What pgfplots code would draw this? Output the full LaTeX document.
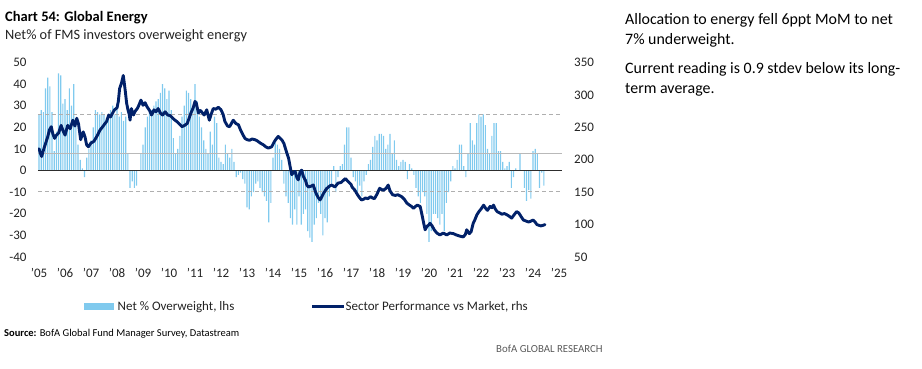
\documentclass[border=0pt]{standalone}
\usepackage{fontspec}
\setmainfont{Carlito}
\usepackage{pgfplots}
\usepackage{pgfplotstable}
\pgfplotsset{compat=1.18}
\definecolor{barblue}{RGB}{128,202,238}
\definecolor{navy}{RGB}{1,33,105}
\definecolor{dgray}{RGB}{175,175,175}
\definecolor{mgray}{RGB}{185,185,185}
\definecolor{zline}{RGB}{45,45,45}
\definecolor{txt}{RGB}{35,35,35}

\pgfplotstableread{
v
26
28
27
38
43
39
27
9
18
45
44
31
33
28
38
30
40
22
12
5
1
-3
6
10
14
20
28
27
26
27
26
24
25
28
30
26
28
25
27
23
25
8
-8
-5
-8
-7
0
8
12
20
25
27
28
30
32
33
36
40
38
33
37
28
15
8
10
16
25
30
37
36
33
30
40
32
25
20
14
10
8
18
12
25
22
6
4
3
12
8
6
10
4
-3
-2
-1
-4
-6
-17
-18
-12
-10
-6
-5
-8
-10
-12
-14
-24
-15
6
13
12
10
5
-6
-12
-15
-22
-25
-18
-25
-12
-25
-20
-18
-28
-31
-33
-25
-22
-15
-20
-30
-22
-24
-12
-6
2
-10
-3
2
3
12
20
20
6
-3
-5
-10
-7
-12
-5
-2
3
5
11
16
14
17
17
16
10
12
17
8
14
5
2
4
5
4
-4
3
1
-2
-8
-12
-15
-10
-12
-20
-33
-28
-20
-20
-22
-25
-20
-28
-15
-10
-5
2
1
5
12
12
2
-3
8
22
14
12
22
26
25
26
21
10
8
16
22
22
9
9
4
1
2
4
-8
-3
1
0
8
0
-8
-14
-9
-13
9
10
8
-8
-1
-7
}\barsdata

\pgfplotstableread{
x y
2005.00 217
2005.05 210
2005.10 205
2005.17 215
2005.25 225
2005.33 235
2005.40 246
2005.47 251
2005.53 240
2005.60 233
2005.67 238
2005.75 241
2005.85 253
2005.92 245
2006.00 238
2006.10 253
2006.20 248
2006.30 261
2006.38 252
2006.45 264
2006.52 255
2006.60 231
2006.70 243
2006.77 235
2006.83 223
2006.90 220
2007.00 226
2007.10 228
2007.15 231
2007.25 238
2007.35 246
2007.45 251
2007.52 255
2007.60 259
2007.68 269
2007.75 266
2007.83 272
2007.90 277
2008.00 280
2008.05 290
2008.10 310
2008.17 318
2008.24 330
2008.28 318
2008.32 305
2008.37 287
2008.42 277
2008.47 270
2008.50 261
2008.55 279
2008.63 269
2008.70 275
2008.78 279
2008.85 285
2008.92 292
2009.00 284
2009.08 288
2009.15 282
2009.25 276
2009.33 269
2009.42 277
2009.50 274
2009.58 279
2009.67 272
2009.75 269
2009.85 274
2009.95 269
2010.05 268
2010.10 266
2010.20 262
2010.30 259
2010.40 255
2010.50 251
2010.60 253
2010.70 256
2010.78 265
2010.85 273
2010.92 279
2011.00 290
2011.05 287
2011.13 272
2011.20 276
2011.25 274
2011.35 269
2011.45 277
2011.55 261
2011.62 270
2011.70 279
2011.80 278
2011.90 281
2012.00 277
2012.08 270
2012.15 259
2012.25 252
2012.33 251
2012.40 256
2012.47 261
2012.57 256
2012.67 254
2012.75 246
2012.85 238
2012.92 233
2013.00 231
2013.10 230
2013.20 232
2013.30 231
2013.40 229
2013.50 226
2013.63 223
2013.72 220
2013.82 218
2013.95 220
2014.05 228
2014.12 232
2014.20 236
2014.28 233
2014.35 230
2014.42 225
2014.48 217
2014.55 208
2014.60 202
2014.66 189
2014.72 177
2014.78 180
2014.85 182
2014.92 172
2014.97 169
2015.04 181
2015.10 184
2015.17 174
2015.25 168
2015.30 161
2015.36 158
2015.45 159
2015.55 161
2015.62 152
2015.68 146
2015.75 141
2015.81 138
2015.88 143
2015.94 148
2016.05 155
2016.13 158
2016.20 160
2016.26 161
2016.38 158
2016.50 164
2016.62 165
2016.70 168
2016.78 171
2016.90 166
2017.00 162
2017.04 158
2017.15 153
2017.22 148
2017.30 143
2017.40 138
2017.48 139
2017.55 141
2017.65 140
2017.75 143
2017.83 141
2017.90 140
2018.00 147
2018.10 156
2018.18 154
2018.25 153
2018.35 156
2018.43 161
2018.50 152
2018.60 146
2018.70 145
2018.80 146
2018.95 143
2019.05 139
2019.15 133
2019.25 130
2019.33 128
2019.40 125
2019.48 128
2019.55 130
2019.66 128
2019.72 117
2019.78 105
2019.85 92
2019.92 97
2020.00 100
2020.04 102
2020.12 98
2020.20 92
2020.30 87
2020.42 84
2020.55 87
2020.68 84
2020.80 87
2020.94 86
2021.05 84
2021.20 82
2021.32 81
2021.40 85
2021.45 92
2021.55 86
2021.62 89
2021.70 102
2021.77 108
2021.84 115
2021.92 120
2022.00 124
2022.10 130
2022.18 125
2022.25 122
2022.35 128
2022.42 126
2022.48 130
2022.55 124
2022.62 120
2022.72 118
2022.80 116
2022.90 117
2023.00 115
2023.08 113
2023.18 110
2023.27 115
2023.37 120
2023.45 118
2023.50 115
2023.58 110
2023.63 107
2023.70 106
2023.76 105
2023.83 104
2023.90 105
2024.00 107
2024.08 104
2024.15 100
2024.22 99
2024.30 98
2024.40 99
2024.46 100
}\linedata

\begin{document}
\begin{tikzpicture}[x=1pt,y=1pt]
\path[use as bounding box] (0,0) rectangle (922,368);

% titles
\node[anchor=base west, inner sep=0, text=black, font=\fontsize{14.5}{16}\selectfont\bfseries] at (5,346.2) {Chart 54: Global Energy};
\node[anchor=base west, inner sep=0, text=txt, font=\fontsize{14.3}{16}\selectfont] at (5,328.7) {Net\% of FMS investors overweight energy};

% commentary
\begin{scope}[every node/.style={anchor=base west, inner sep=0, text=black, font=\fontsize{15.9}{19}\selectfont}]
\node at (625,344) {Allocation to energy fell 6ppt MoM to net};
\node at (625,324) {7\% underweight.};
\node at (625,294.5) {Current reading is 0.9 stdev below its long-};
\node at (625,274.5) {term average.};
\end{scope}

\begin{axis}[
  at={(38pt,111pt)}, anchor=south west,
  scale only axis, width=524pt, height=194.5pt,
  xmin=2004.96, xmax=2025.115, ymin=-40, ymax=50,
  axis line style={draw=none}, major tick length=0pt,
  xtick={2005,2006,2007,2008,2009,2010,2011,2012,2013,2014,2015,2016,2017,2018,2019,2020,2021,2022,2023,2024,2025},
  xticklabels={'05,'06,'07,'08,'09,'10,'11,'12,'13,'14,'15,'16,'17,'18,'19,'20,'21,'22,'23,'24,'25},
  ytick={-40,-30,-20,-10,0,10,20,30,40,50},
  yticklabels={-40,-30,-20,-10,0,10,20,30,40,50},
  ticklabel style={font=\fontsize{13}{15}\selectfont, text=txt},
  xticklabel style={yshift=-8pt},
  yticklabel style={xshift=-8pt},
  axis y line*=left, axis x line*=bottom,
]
\addplot[ybar, bar width=1.15pt, fill=barblue, draw=none] table[x expr=2005+\coordindex/12, y=v] {\barsdata};
\addplot[mgray, line width=1.3pt] coordinates {(2004.96,8) (2025.115,8)};
\addplot[dgray, line width=1.3pt, dash pattern=on 4pt off 3pt] coordinates {(2004.96,25.8) (2025.115,25.8)};
\addplot[dgray, line width=1.3pt, dash pattern=on 4pt off 3pt] coordinates {(2004.96,-9.6) (2025.115,-9.6)};
\addplot[zline, line width=1.4pt] coordinates {(2004.96,0) (2025.115,0)};
\end{axis}

\begin{axis}[
  at={(38pt,111pt)}, anchor=south west,
  scale only axis, width=524pt, height=194.5pt,
  xmin=2004.96, xmax=2025.115, ymin=50, ymax=350,
  axis y line*=right, hide x axis,
  axis line style={draw=none}, major tick length=0pt,
  ytick={50,100,150,200,250,300,350},
  yticklabels={50,100,150,200,250,300,350},
  ticklabel style={font=\fontsize{13}{15}\selectfont, text=txt},
  yticklabel style={xshift=8.7pt},
]
\addplot[navy, line width=2.9pt, line join=round, line cap=round] table[x=x, y=y] {\linedata};
\end{axis}

% legend
\fill[barblue] (84,58) rectangle (114,65.5);
\node[anchor=base west, inner sep=0, text=txt, font=\fontsize{13}{15}\selectfont] at (117.5,57.3) {Net \% Overweight, lhs};
\draw[navy, line width=3pt] (312,61.5) -- (344,61.5);
\node[anchor=base west, inner sep=0, text=txt, font=\fontsize{13}{15}\selectfont] at (345.5,57.3) {Sector Performance vs Market, rhs};

% source
\node[anchor=base west, inner sep=0, text=black, font=\fontsize{10.5}{12}\selectfont] at (4,31.5) {\textbf{Source:} BofA Global Fund Manager Survey, Datastream};
\node[anchor=base west, inner sep=0, text={rgb,255:red,90;green,90;blue,90}, font=\fontsize{10.8}{12}\selectfont] at (496,15.5) {BofA GLOBAL RESEARCH};
\end{tikzpicture}
\end{document}
